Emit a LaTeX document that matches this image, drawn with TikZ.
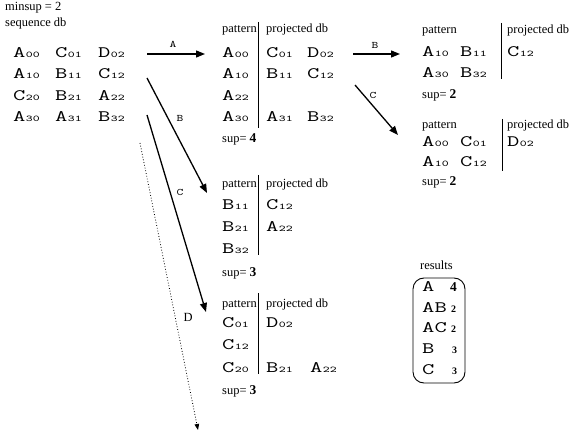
\documentclass[tikz,border=0pt]{standalone}
\usepackage{fontspec}
\setmainfont{Liberation Serif}
\usepackage{graphicx}
\usetikzlibrary{arrows.meta}
\newcommand\el[2]{\scalebox{1.5}[1]{\ttfamily\fontsize{16}{16}\selectfont #1\fontsize{8.8}{9}\selectfont\kern0.3pt#2}}
\newcommand\tl[1]{\scalebox{1.5}[1]{\ttfamily\fontsize{16}{16}\selectfont #1}}
\newcommand\lb[1]{\scalebox{1.3}[1]{\ttfamily\fontsize{10}{10}\selectfont #1}}
\tikzset{
  txt/.style={anchor=base west, inner sep=0pt, font=\fontsize{12.5}{13}\selectfont},
  elm/.style={anchor=base west, inner sep=0pt},
  num/.style={anchor=base west, inner sep=0pt, font=\bfseries\fontsize{10}{10}\selectfont},
  bignum/.style={anchor=base west, inner sep=0pt, font=\bfseries\fontsize{13.5}{14}\selectfont},
  arr/.style={line width=1.3bp, -{Triangle[length=9bp,width=7bp]}},
  dotarr/.style={line width=0.8bp, dotted, -{Triangle[length=6bp,width=4.5bp]}},
  sepline/.style={line width=0.9bp},
  lbl/.style={inner sep=0pt},
}
\begin{document}
\begin{tikzpicture}[x=1bp,y=-1bp]
\useasboundingbox (0,0) rectangle (586,433);
% sequence db
\node[txt] (minsup) at (5,11) {minsup = 2};
\node[txt] (seqdb) at (5,27) {sequence db};
\node[elm] (s00) at (13,57.5) {\el{A}{00}};
\node[elm] (s01) at (55,57.5) {\el{C}{01}};
\node[elm] (s02) at (98,57.5) {\el{D}{02}};
\node[elm] (s10) at (13,79) {\el{A}{10}};
\node[elm] (s11) at (55,79) {\el{B}{11}};
\node[elm] (s12) at (98,79) {\el{C}{12}};
\node[elm] (s20) at (13,100.5) {\el{C}{20}};
\node[elm] (s21) at (55,100.5) {\el{B}{21}};
\node[elm] (s22) at (98,100.5) {\el{A}{22}};
\node[elm] (s30) at (13,122) {\el{A}{30}};
\node[elm] (s31) at (55,122) {\el{A}{31}};
\node[elm] (s32) at (98,122) {\el{B}{32}};
% box A
\node[txt] (apat) at (222,33) {pattern};
\node[txt] (aproj) at (266,33) {projected db};
\coordinate (asepT) at (258,22);
\coordinate (asepB) at (258,128);
\draw[sepline] (asepT) -- (asepB);
\node[elm] (a00) at (222,57.5) {\el{A}{00}};
\node[elm] (a01) at (266,57.5) {\el{C}{01}};
\node[elm] (a02) at (307,57.5) {\el{D}{02}};
\node[elm] (a10) at (222,79) {\el{A}{10}};
\node[elm] (a11) at (266,79) {\el{B}{11}};
\node[elm] (a12) at (307,79) {\el{C}{12}};
\node[elm] (a22) at (222,100.5) {\el{A}{22}};
\node[elm] (a30) at (222,122) {\el{A}{30}};
\node[elm] (a31) at (266,122) {\el{A}{31}};
\node[elm] (a32) at (307,122) {\el{B}{32}};
\node[txt] (asup) at (222,143) {sup= \textbf{\fontsize{13.5}{14}\selectfont 4}};
% box AB
\node[txt] (abpat) at (422,34) {pattern};
\node[txt] (abproj) at (507,34) {projected db};
\coordinate (absepT) at (501,23);
\coordinate (absepB) at (501,79);
\draw[sepline] (absepT) -- (absepB);
\node[elm] (ab10) at (422,56.5) {\el{A}{10}};
\node[elm] (ab11) at (460,56.5) {\el{B}{11}};
\node[elm] (ab12) at (507,56.5) {\el{C}{12}};
\node[elm] (ab30) at (422,77.5) {\el{A}{30}};
\node[elm] (ab32) at (460,77.5) {\el{B}{32}};
\node[txt] (absup) at (422,99) {sup= \textbf{\fontsize{13.5}{14}\selectfont 2}};
% box AC
\node[txt] (acpat) at (422,129) {pattern};
\node[txt] (acproj) at (507,129) {projected db};
\coordinate (acsepT) at (502,119);
\coordinate (acsepB) at (502,171);
\draw[sepline] (acsepT) -- (acsepB);
\node[elm] (ac00) at (422,146.5) {\el{A}{00}};
\node[elm] (ac01) at (460,146.5) {\el{C}{01}};
\node[elm] (ac02) at (507,146.5) {\el{D}{02}};
\node[elm] (ac10) at (422,166.5) {\el{A}{10}};
\node[elm] (ac12) at (460,166.5) {\el{C}{12}};
\node[txt] (acsup) at (422,186) {sup= \textbf{\fontsize{13.5}{14}\selectfont 2}};
% box B
\node[txt] (bpat) at (222,188) {pattern};
\node[txt] (bproj) at (266,188) {projected db};
\coordinate (bsepT) at (258,175);
\coordinate (bsepB) at (258,255);
\draw[sepline] (bsepT) -- (bsepB);
\node[elm] (b11) at (222,210) {\el{B}{11}};
\node[elm] (b12) at (266,210) {\el{C}{12}};
\node[elm] (b21) at (222,232) {\el{B}{21}};
\node[elm] (b22) at (266,232) {\el{A}{22}};
\node[elm] (b32) at (222,254) {\el{B}{32}};
\node[txt] (bsup) at (222,277) {sup= \textbf{\fontsize{13.5}{14}\selectfont 3}};
% box C
\node[txt] (cpat) at (222,307) {pattern};
\node[txt] (cproj) at (266,307) {projected db};
\coordinate (csepT) at (258,293);
\coordinate (csepB) at (258,374);
\draw[sepline] (csepT) -- (csepB);
\node[elm] (c01) at (222,327.5) {\el{C}{01}};
\node[elm] (c02) at (266,327.5) {\el{D}{02}};
\node[elm] (c12) at (222,349.5) {\el{C}{12}};
\node[elm] (c20) at (222,372) {\el{C}{20}};
\node[elm] (c21) at (266,372) {\el{B}{21}};
\node[elm] (c22) at (310,372) {\el{A}{22}};
\node[txt] (csup) at (222,394) {sup= \textbf{\fontsize{13.5}{14}\selectfont 3}};
% results
\node[txt] (restitle) at (420,270) {results};
\draw[line width=0.9bp, rounded corners=11bp] (413,278) rectangle (465,383);
\node[elm] (r1) at (422,292) {\tl{A}};
\node[bignum] (r1n) at (450,292) {4};
\node[elm] (r2) at (422,312) {\tl{AB}};
\node[num] (r2n) at (451,312) {2};
\node[elm] (r3) at (422,332.5) {\tl{AC}};
\node[num] (r3n) at (451,332.5) {2};
\node[elm] (r4) at (422,353) {\tl{B}};
\node[num] (r4n) at (452,353) {3};
\node[elm] (r5) at (422,374) {\tl{C}};
\node[num] (r5n) at (452,374) {3};
% arrows
\coordinate (pA1) at (147,54);
\coordinate (pA2) at (205,54);
\draw[arr] (pA1) -- (pA2);
\node[lbl] (lA) at (173,44) {\lb{A}};
\coordinate (pB1) at (147,78);
\coordinate (pB2) at (207,193);
\draw[arr] (pB1) -- (pB2);
\node[lbl] (lB) at (180,118) {\lb{B}};
\coordinate (pC1) at (147,115);
\coordinate (pC2) at (206,312);
\draw[arr] (pC1) -- (pC2);
\node[lbl] (lC) at (180,192) {\lb{C}};
\node[lbl, font=\fontsize{12.5}{13}\selectfont] (lD) at (188,317) {D};
\coordinate (pD1) at (140,143);
\coordinate (pD2) at (198,430);
\draw[dotarr] (pD1) -- (pD2);
\coordinate (pAB1) at (353,54);
\coordinate (pAB2) at (400,54);
\draw[arr] (pAB1) -- (pAB2);
\node[lbl] (lAB) at (375,45) {\lb{B}};
\coordinate (pAC1) at (355,85);
\coordinate (pAC2) at (398,135);
\draw[arr] (pAC1) -- (pAC2);
\node[lbl] (lAC) at (373,95) {\lb{C}};
\end{tikzpicture}
\end{document}
